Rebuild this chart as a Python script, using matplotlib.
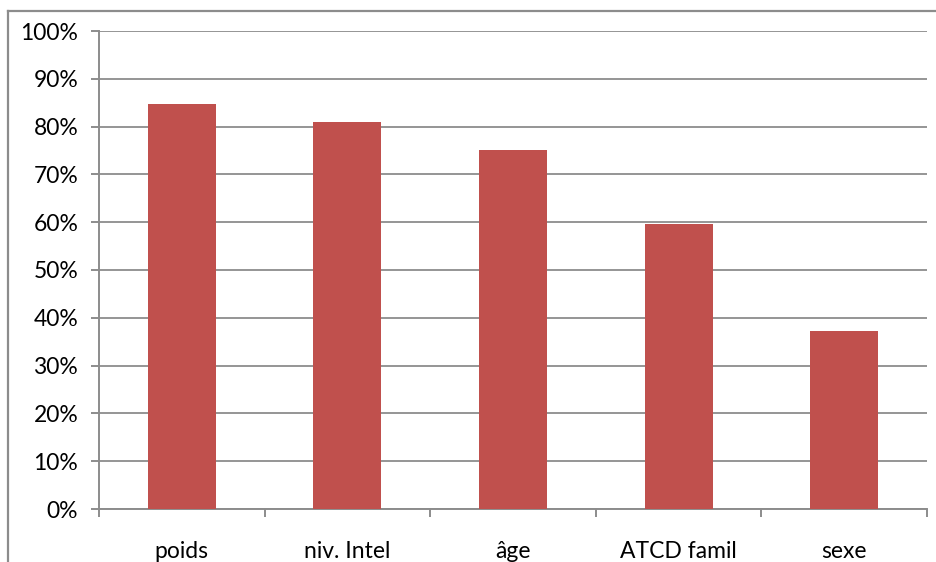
import matplotlib.pyplot as plt
from matplotlib.lines import Line2D
from matplotlib.ticker import FuncFormatter

categories = ["poids", "niv. Intel", "âge", "ATCD famil", "sexe"]
values = [84.7, 81.0, 75.1, 59.6, 37.2]
y_ticks = [0, 10, 20, 30, 40, 50, 60, 70, 80, 90, 100]

plt.rcParams['font.family'] = ['Lato', 'DejaVu Sans']

fig = plt.figure(figsize=(9.36, 5.62), dpi=100)
ax = fig.add_axes([99 / 936, 1 - 509 / 562, 828 / 936, 478 / 562])

grey = '#8c8c8c'
bar_color = '#C0504D'

# cadre extérieur (haut et gauche seulement visibles)
fig.add_artist(Line2D([8 / 936, 1], [1 - 11 / 562, 1 - 11 / 562], color=grey, lw=1.6, transform=fig.transFigure))
fig.add_artist(Line2D([8 / 936, 8 / 936], [0, 1 - 11 / 562], color=grey, lw=1.6, transform=fig.transFigure))

x = list(range(len(categories)))
ax.bar(x, values, width=0.41, color=bar_color, zorder=3)

ax.set_xlim(-0.5, len(categories) - 0.5)
ax.set_ylim(0, 100)

ax.set_yticks(y_ticks)
ax.yaxis.set_major_formatter(FuncFormatter(lambda v, p: f"{int(v)}%"))
ax.grid(axis='y', color=grey, lw=1.3, zorder=0)
ax.set_axisbelow(True)

# ticks aux limites des catégories, étiquettes au centre
ax.set_xticks([i - 0.5 for i in range(len(categories) + 1)])
ax.set_xticklabels([])
ax.set_xticks(x, minor=True)
ax.set_xticklabels(categories, minor=True)
ax.tick_params(axis='x', which='major', length=6, color=grey, width=1.4, direction='out')
ax.tick_params(axis='x', which='minor', length=0, pad=23, labelsize=16.5)
ax.tick_params(axis='y', length=6, color=grey, width=1.4, pad=9, labelsize=16.5)

for side in ['top', 'right']:
    ax.spines[side].set_visible(False)
for side in ['left', 'bottom']:
    ax.spines[side].set_color(grey)
    ax.spines[side].set_linewidth(1.4)

fig.savefig('out.png', dpi=100)
